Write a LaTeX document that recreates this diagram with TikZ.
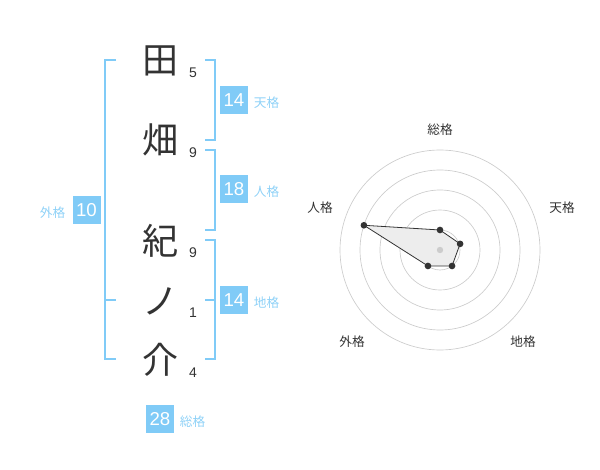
\documentclass[tikz,border=0pt]{standalone}
\usepackage{fontspec}
\setmainfont{Liberation Sans}
\newfontfamily\jp{Noto Sans CJK JP}
\usetikzlibrary{positioning}
\definecolor{skyblue}{HTML}{80CBF7}
\definecolor{palesky}{HTML}{8ED1F7}
\definecolor{inkgray}{HTML}{333333}
\definecolor{ringgray}{HTML}{CCCCCC}

\begin{document}
\begin{tikzpicture}[x=0.75pt,y=-0.75pt,
    kanji/.style={font=\jp\fontsize{27}{27}\selectfont,text=inkgray,inner sep=0pt},
    strokes/.style={font=\fontsize{10.5}{11}\selectfont,text=inkgray,inner sep=0pt},
    scorebox/.style={fill=skyblue,text=white,minimum size=21pt,inner sep=0pt,font=\fontsize{14}{14}\selectfont},
    kaku/.style={font=\jp\fontsize{9.5}{10}\selectfont,text=palesky,inner sep=0pt},
    bracket/.style={draw=skyblue,line width=1.1pt},
    ring/.style={draw=ringgray,line width=0.5pt},
    axislabel/.style={font=\jp\fontsize{9.5}{10}\selectfont,text=inkgray,inner sep=0pt},
    dot/.style={circle,fill=inkgray,inner sep=0pt,minimum size=5pt}]
\useasboundingbox (0,0) rectangle (600,470);

% name and stroke counts
\node[kanji] (ta) at (160,61) {田};
\node[kanji] (hata) at (160,140) {畑};
\node[kanji] (nori) at (160,241) {紀};
\node[kanji] (no) at (160,301) {ノ};
\node[kanji] (suke) at (160,360) {介};
\node[strokes] (n1) at (193,73) {5};
\node[strokes] (n2) at (193,153) {9};
\node[strokes] (n3) at (193,253) {9};
\node[strokes] (n4) at (193,313) {1};
\node[strokes] (n5) at (193,373) {4};

\draw[bracket] (116,60) -- (105,60) -- (105,359) -- (116,359) (105,300) -- (116,300);
\draw[bracket] (205,60) -- (215,60) -- (215,140) -- (205,140);
\draw[bracket] (205,150) -- (215,150) -- (215,230) -- (205,230);
\draw[bracket] (205,240) -- (215,240) -- (215,359) -- (205,359) (205,300) -- (215,300);

\node[scorebox] (tenkaku) at (234,100) {14};
\node[kaku,right=4pt of tenkaku,yshift=-2pt] {天格};
\node[scorebox] (jinkaku) at (234,189.5) {18};
\node[kaku,right=4pt of jinkaku,yshift=-2pt] {人格};
\node[scorebox] (chikaku) at (234,300) {14};
\node[kaku,right=4pt of chikaku,yshift=-2pt] {地格};
\node[scorebox] (gaikaku) at (86.5,210) {10};
\node[kaku,left=5pt of gaikaku,yshift=-2pt] {外格};
\node[scorebox] (soukaku) at (160,419) {28};
\node[kaku,right=4pt of soukaku,yshift=-2pt] {総格};

% radar
\begin{scope}[shift={(440,250)},yscale=-1]
  \foreach \r in {20,40,...,100}
    \draw[ring] (0,0) circle (\r);
  \node[axislabel] at (0,120) {総格};
  \node[axislabel] at (122,42) {天格};
  \node[axislabel] at (83,-92) {地格};
  \node[axislabel] at (-88,-92) {外格};
  \node[axislabel] at (-120,42) {人格};
  \coordinate (so) at (90:20);
  \coordinate (te) at (17:21);
  \coordinate (ch) at (-53:20);
  \coordinate (ga) at (-127:20);
  \coordinate (ji) at (162:80);
  \draw[inkgray,fill=black!7,line width=0.6pt] (so) -- (te) -- (ch) -- (ga) -- (ji) -- cycle;
  \fill[ringgray] (0,0) circle (3.2);
  \foreach \p in {so,te,ch,ga,ji}
    \node[dot] at (\p) {};
\end{scope}
\end{tikzpicture}
\end{document}
